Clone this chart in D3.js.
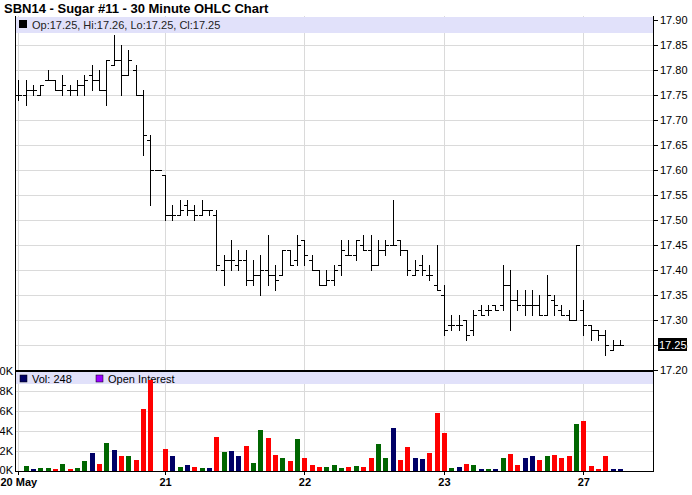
<!DOCTYPE html>
<html>
<head>
<meta charset="utf-8">
<script src="https://cdn.jsdelivr.net/npm/d3@7"></script>
<style>
  body { margin: 0; background: #fff; }
  text { font-family: "Liberation Sans", Arial, sans-serif; }
</style>
</head>
<body>
<script>
// 30 minute bars, SBN14 sugar, 20 May - 27 May
var opens = [17.75,17.75,17.76,17.75,17.78,17.78,17.76,17.76,17.76,17.77,
  17.79,17.78,17.76,17.81,17.82,17.79,17.80,17.75,17.66,17.60,
  17.59,17.51,17.51,17.53,17.52,17.51,17.52,17.51,17.40,17.42,
  17.41,17.42,17.38,17.39,17.40,17.39,17.39,17.44,17.42,17.46,
  17.42,17.40,17.37,17.38,17.41,17.43,17.43,17.45,17.44,17.41,
  17.44,17.45,17.46,17.44,17.39,17.41,17.39,17.37,17.35,17.29,
  17.29,17.30,17.28,17.32,17.32,17.33,17.33,17.37,17.34,17.33,
  17.33,17.33,17.31,17.34,17.32,17.31,17.30,17.32,17.29,17.28,
  17.27,17.24,17.25];
var highs = [17.78,17.78,17.77,17.77,17.80,17.78,17.79,17.77,17.78,17.79,
  17.81,17.80,17.82,17.87,17.85,17.84,17.81,17.76,17.67,17.60,
  17.59,17.53,17.54,17.54,17.53,17.54,17.52,17.52,17.43,17.46,
  17.44,17.44,17.42,17.43,17.47,17.41,17.44,17.44,17.47,17.46,
  17.43,17.40,17.40,17.41,17.46,17.46,17.46,17.47,17.47,17.46,
  17.46,17.54,17.46,17.44,17.42,17.43,17.41,17.45,17.37,17.31,
  17.31,17.30,17.32,17.33,17.33,17.33,17.41,17.40,17.36,17.36,
  17.36,17.35,17.39,17.35,17.33,17.32,17.45,17.34,17.29,17.28,
  17.28,17.26,17.26];
var lows = [17.74,17.73,17.75,17.75,17.78,17.76,17.75,17.75,17.75,17.75,
  17.76,17.76,17.73,17.81,17.75,17.79,17.75,17.63,17.53,17.60,
  17.50,17.50,17.51,17.51,17.50,17.51,17.51,17.40,17.37,17.40,
  17.40,17.37,17.37,17.35,17.37,17.36,17.39,17.41,17.41,17.41,
  17.40,17.37,17.37,17.37,17.39,17.43,17.42,17.44,17.40,17.41,
  17.43,17.45,17.43,17.39,17.39,17.39,17.38,17.36,17.27,17.28,
  17.28,17.26,17.27,17.31,17.31,17.32,17.32,17.28,17.32,17.31,
  17.31,17.31,17.31,17.31,17.31,17.30,17.30,17.27,17.26,17.26,
  17.23,17.24,17.25];
var closes = [17.75,17.76,17.76,17.77,17.78,17.76,17.77,17.76,17.77,17.78,
  17.78,17.76,17.82,17.82,17.79,17.82,17.75,17.67,17.60,17.60,
  17.51,17.51,17.52,17.52,17.51,17.52,17.52,17.41,17.42,17.42,
  17.42,17.38,17.39,17.40,17.39,17.38,17.44,17.41,17.45,17.43,
  17.40,17.37,17.38,17.40,17.44,17.43,17.46,17.44,17.41,17.44,
  17.45,17.45,17.44,17.40,17.40,17.40,17.39,17.36,17.28,17.29,
  17.29,17.27,17.31,17.31,17.32,17.32,17.37,17.34,17.33,17.33,
  17.33,17.31,17.35,17.33,17.31,17.30,17.45,17.29,17.28,17.27,
  17.25,17.25,17.25];
// volume in thousands
var volumes = [0,0.5,0.2,0.3,0.3,0.2,0.7,0.2,0.3,1.0,
  1.8,0.7,2.8,2.1,1.5,1.5,1.1,6.2,9.1,0,
  2.2,1.5,0.4,0.6,0.4,0.3,0.3,3.4,1.9,2.0,
  1.5,2.5,0.8,4.1,3.3,1.6,1.3,1.0,3.2,1.3,
  0.6,0.4,0.4,0.6,0.3,0.4,0.5,0.4,1.3,2.7,
  1.3,4.3,1.1,2.4,1.3,1.2,1.8,5.8,3.8,0.3,
  0.4,0.7,0.6,0.2,0.2,0.2,1.3,1.7,0.6,1.3,
  1.5,1.1,1.5,1.6,1.3,1.5,4.7,5.0,0.5,0.2,
  1.5,0.2,0.248];

var dayIndex = [0, 20, 39, 58, 77];
var dayLabels = ["20 May", "21", "22", "23", "27"];
var priceTicks = [17.20,17.25,17.30,17.35,17.40,17.45,17.50,17.55,17.60,17.65,17.70,17.75,17.80,17.85,17.90];
var volTicks = [0, 2, 4, 6, 8, 10];
var lastPrice = 17.25;

var width = 692, height = 495;
var left = 15, right = 653;
var pTop = 16, pBot = 370;
var vTop = 371, vBot = 471;

var svg = d3.select("body").append("svg")
    .attr("width", width)
    .attr("height", height);

svg.append("rect").attr("width", width).attr("height", height).attr("fill", "#fff");

var x = d3.scaleLinear().domain([0, 77]).range([18.3, 583.3]);
var y = d3.scaleLinear().domain([17.20, 17.90]).range([370, 20]);
var yv = d3.scaleLinear().domain([0, 10]).range([vBot, vTop]);

function px(v) { return Math.round(v) + 0.5; }

// title
svg.append("text")
    .attr("x", 4).attr("y", 13)
    .attr("font-size", 13).attr("font-weight", "bold")
    .text("SBN14 - Sugar #11 - 30 Minute OHLC Chart");

var grid = svg.append("g").attr("stroke", "#dadada").attr("shape-rendering", "crispEdges");

// price gridlines
grid.selectAll("line.h")
    .data(priceTicks.filter(function(d){ return d > 17.21 && d < 17.89; }))
    .enter().append("line")
    .attr("x1", left).attr("x2", right)
    .attr("y1", function(d){ return px(y(d)); })
    .attr("y2", function(d){ return px(y(d)); });

// volume gridlines
grid.selectAll("line.v")
    .data(volTicks.filter(function(d){ return d > 0 && d < 10; }))
    .enter().append("line")
    .attr("x1", left).attr("x2", right)
    .attr("y1", function(d){ return px(yv(d)); })
    .attr("y2", function(d){ return px(yv(d)); });

// day gridlines
grid.selectAll("line.d")
    .data(dayIndex)
    .enter().append("line")
    .attr("x1", function(d){ return px(x(d)); })
    .attr("x2", function(d){ return px(x(d)); })
    .attr("y1", pTop).attr("y2", vBot);

// legend bands
svg.append("rect").attr("x", left + 1).attr("y", pTop + 1)
    .attr("width", right - left - 1).attr("height", 16).attr("fill", "#e1e1fa");
svg.append("rect").attr("x", left + 1).attr("y", vTop + 1)
    .attr("width", right - left - 1).attr("height", 12).attr("fill", "#e1e1fa");

// price legend
svg.append("rect").attr("x", 19).attr("y", 20).attr("width", 8).attr("height", 8).attr("fill", "#000");
svg.append("text").attr("x", 32).attr("y", 29).attr("font-size", 11).attr("fill", "#222")
    .text("Op:" + opens[82].toFixed(2) + ", Hi:" + highs[82].toFixed(2) +
          ", Lo:" + lows[82].toFixed(2) + ", Cl:" + closes[82].toFixed(2));

// volume legend
svg.append("rect").attr("x", 20).attr("y", 375).attr("width", 7).attr("height", 7)
    .attr("fill", "#000066").attr("stroke", "#000").attr("stroke-width", 0.5);
svg.append("text").attr("x", 32).attr("y", 383).attr("font-size", 11)
    .text("Vol: " + Math.round(volumes[82] * 1000));
svg.append("rect").attr("x", 96).attr("y", 375).attr("width", 7).attr("height", 7)
    .attr("fill", "#9900ff").attr("stroke", "#000").attr("stroke-width", 0.5);
svg.append("text").attr("x", 108).attr("y", 383).attr("font-size", 11)
    .text("Open Interest");

// OHLC bars
var idx = d3.range(opens.length);
var bars = svg.append("g").attr("stroke", "#000").attr("shape-rendering", "crispEdges");
bars.selectAll("line.hl").data(idx).enter().append("line")
    .attr("x1", function(i){ return px(x(i)); })
    .attr("x2", function(i){ return px(x(i)); })
    .attr("y1", function(i){ return Math.round(y(highs[i])); })
    .attr("y2", function(i){ return Math.round(y(lows[i])) + 1; });
bars.selectAll("line.o").data(idx).enter().append("line")
    .attr("x1", function(i){ return Math.round(x(i)) - 3; })
    .attr("x2", function(i){ return Math.round(x(i)); })
    .attr("y1", function(i){ return px(y(opens[i])); })
    .attr("y2", function(i){ return px(y(opens[i])); });
bars.selectAll("line.c").data(idx).enter().append("line")
    .attr("x1", function(i){ return Math.round(x(i)) + 1; })
    .attr("x2", function(i){ return Math.round(x(i)) + 4; })
    .attr("y1", function(i){ return px(y(closes[i])); })
    .attr("y2", function(i){ return px(y(closes[i])); });

// volume bars coloured by close vs previous close
function volColor(i) {
  if (i === 0 || closes[i] === closes[i-1]) return "#000066";
  return closes[i] > closes[i-1] ? "#006600" : "#ff0000";
}
svg.append("g").attr("shape-rendering", "crispEdges")
  .selectAll("rect").data(idx.filter(function(i){ return volumes[i] > 0; }))
  .enter().append("rect")
    .attr("x", function(i){ return Math.round(x(i)) - 2; })
    .attr("width", 5)
    .attr("y", function(i){ return Math.round(yv(volumes[i])); })
    .attr("height", function(i){ return vBot - Math.round(yv(volumes[i])); })
    .attr("fill", volColor);

// frame
var frame = svg.append("g").attr("stroke", "#000").attr("shape-rendering", "crispEdges");
frame.append("line").attr("x1", left + 0.5).attr("x2", left + 0.5).attr("y1", pTop).attr("y2", vBot + 1);
frame.append("line").attr("x1", right + 0.5).attr("x2", right + 0.5).attr("y1", pTop).attr("y2", vBot + 1);
frame.append("line").attr("x1", left).attr("x2", right + 1).attr("y1", vBot + 0.5).attr("y2", vBot + 0.5);
frame.append("line").attr("x1", left).attr("x2", right + 1).attr("y1", 370.5).attr("y2", 370.5).attr("stroke-width", 2);

// right price axis
var rAxis = svg.append("g").attr("transform", "translate(" + (right + 1) + ",0)")
    .call(d3.axisRight(y).tickValues(priceTicks).tickSize(4).tickFormat(d3.format(".2f")));
rAxis.select(".domain").remove();
rAxis.selectAll("text").attr("font-size", 11).attr("font-family", "Liberation Sans, Arial, sans-serif")
    .attr("x", 6).attr("fill", "#000");
rAxis.selectAll("line").attr("stroke", "#000").attr("shape-rendering", "crispEdges");

// last price marker
svg.append("rect").attr("x", right + 5).attr("y", Math.round(y(lastPrice)) - 7)
    .attr("width", 29).attr("height", 13).attr("fill", "#000");
svg.append("text").attr("x", right + 6).attr("y", y(lastPrice)).attr("dy", "0.35em")
    .attr("font-size", 11).attr("fill", "#fff").text(lastPrice.toFixed(2));

// left volume axis (labels only)
var lAxis = svg.append("g").attr("transform", "translate(" + left + ",0)")
    .call(d3.axisLeft(yv).tickValues(volTicks).tickSize(0).tickPadding(2)
      .tickFormat(function(d){ return d + "K"; }));
lAxis.select(".domain").remove();
lAxis.selectAll("text").attr("font-size", 11).attr("font-family", "Liberation Sans, Arial, sans-serif").attr("fill", "#000");
lAxis.selectAll(".tick").filter(function(d){ return d === 0; }).select("text").attr("dy", "0.2em");

// bottom day axis
var bAxis = svg.append("g").attr("transform", "translate(0," + (vBot + 1) + ")")
    .call(d3.axisBottom(x).tickValues(dayIndex).tickSize(3)
      .tickFormat(function(d, i){ return dayLabels[i]; }));
bAxis.select(".domain").remove();
bAxis.selectAll("line").attr("stroke", "#000").attr("shape-rendering", "crispEdges");
bAxis.selectAll("text").attr("font-size", 11).attr("font-weight", "bold")
    .attr("font-family", "Liberation Sans, Arial, sans-serif").attr("fill", "#000").attr("y", 6);
</script>
</body>
</html>
